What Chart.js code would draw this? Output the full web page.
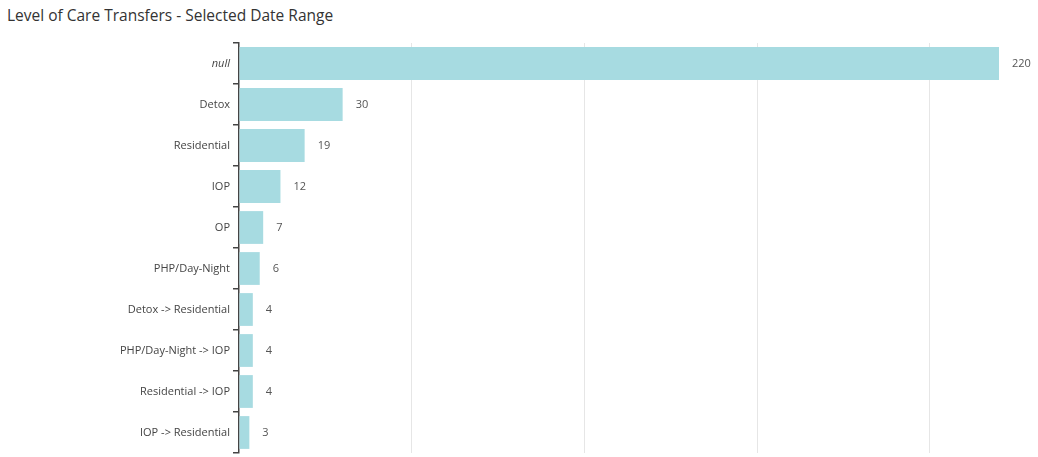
<!DOCTYPE html>
<html>
<head>
<meta charset="utf-8">
<script src="https://cdn.jsdelivr.net/npm/chart.js@4"></script>
<style>
  html, body { margin: 0; padding: 0; background: #fff; }
  #wrap { position: relative; width: 1038px; height: 457px; }
  #title { position: absolute; left: 7px; top: 4px; font-family: "Open Sans", sans-serif; font-size: 15.5px; color: #333; white-space: nowrap; }
  canvas { position: absolute; left: 0; top: 0; }
</style>
</head>
<body>
<div id="wrap">
  <div id="title">Level of Care Transfers - Selected Date Range</div>
  <canvas id="c" width="1038" height="457"></canvas>
</div>
<script>
const categories = ["null", "Detox", "Residential", "IOP", "OP", "PHP/Day-Night", "Detox -> Residential", "PHP/Day-Night -> IOP", "Residential -> IOP", "IOP -> Residential"];
const transfers = [220, 30, 19, 12, 7, 6, 4, 4, 4, 3];

const valueLabels = {
  id: 'valueLabels',
  afterDatasetsDraw(chart) {
    const ctx = chart.ctx;
    const meta = chart.getDatasetMeta(0);
    ctx.save();
    ctx.font = '11px "Open Sans", sans-serif';
    ctx.fillStyle = '#555';
    ctx.textAlign = 'left';
    ctx.textBaseline = 'middle';
    meta.data.forEach((bar, i) => {
      ctx.fillText(String(transfers[i]), bar.x + 13, bar.y);
    });
    ctx.restore();
  }
};

new Chart(document.getElementById('c'), {
  type: 'bar',
  data: {
    labels: categories,
    datasets: [{
      data: transfers,
      backgroundColor: '#a7dbe1',
      borderWidth: 0,
      barPercentage: 0.8,
      categoryPercentage: 1.0
    }]
  },
  options: {
    indexAxis: 'y',
    responsive: false,
    animation: false,
    layout: { padding: { top: 43, bottom: 4, right: 39, left: 0 } },
    plugins: { legend: { display: false }, tooltip: { enabled: false }, title: { display: false } },
    scales: {
      x: {
        min: 0,
        max: 220,
        afterFit(scale) { scale.height = 0; },
        ticks: { display: false, stepSize: 50, padding: 0 },
        border: { display: false },
        grid: {
          drawTicks: false,
          color: (c) => (c.tick && c.tick.value > 0 && c.tick.value % 50 === 0) ? '#e6e6e6' : 'rgba(0,0,0,0)',
          lineWidth: 1
        }
      },
      y: {
        afterFit(scale) { scale.width = 239; scale.paddingTop = 0; scale.paddingBottom = 0; },
        border: { display: true, color: '#444', width: 1.5 },
        grid: { drawOnChartArea: false, drawTicks: true, tickLength: 6, color: '#444', lineWidth: 1.5, offset: true },
        ticks: {
          padding: 3,
          color: '#444',
          font: (c) => ({ family: '"Open Sans", sans-serif', size: 11, style: (c.tick && c.tick.label === 'null') ? 'italic' : 'normal' })
        }
      }
    }
  },
  plugins: [valueLabels]
});
</script>
</body>
</html>
